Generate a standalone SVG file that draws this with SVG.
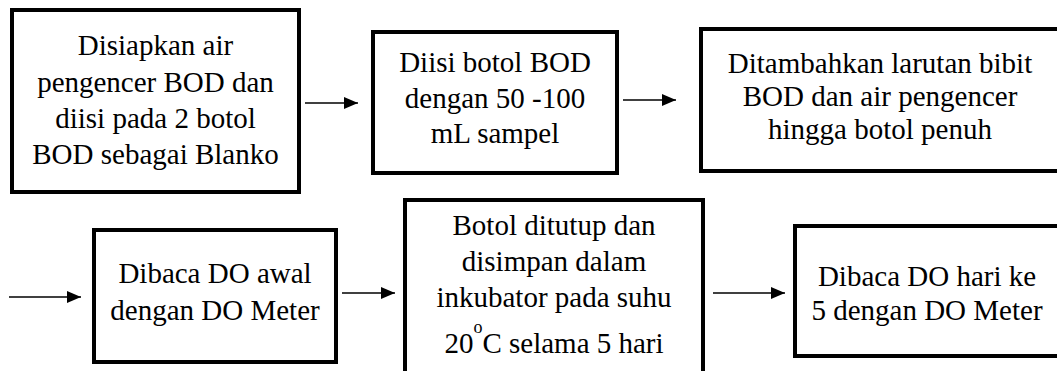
<svg xmlns="http://www.w3.org/2000/svg" width="1057" height="371" viewBox="0 0 1057 371" font-family="Liberation Serif, DejaVu Serif, serif">
  <style>
    .box { fill: #ffffff; stroke: #000000; stroke-width: 4; }
    .lbl { font-size: 29px; fill: #000000; text-anchor: middle; }
    .sup { font-size: 18px; }
    .link { stroke: #000000; stroke-width: 1.5; fill: none; marker-end: url(#head); }
  </style>
  <defs>
    <marker id="head" viewBox="0 0 14 12" refX="14" refY="6" markerWidth="14" markerHeight="12" markerUnits="userSpaceOnUse" orient="auto">
      <path d="M0,0 L14,6 L0,12 Z" fill="#000000"/>
    </marker>
  </defs>

  <rect width="1057" height="371" fill="#ffffff"/>

  <!-- step 1 -->
  <g id="step-prepare">
    <rect class="box" x="12" y="10" width="287" height="182"/>
    <text class="lbl" x="155.5" y="55" font-family="Liberation Serif, serif">Disiapkan air</text>
    <text class="lbl" x="155.5" y="92">pengencer BOD dan</text>
    <text class="lbl" x="155.5" y="128">diisi pada 2 botol</text>
    <text class="lbl" x="155.5" y="164">BOD sebagai Blanko</text>
  </g>

  <!-- step 2 -->
  <g id="step-fill">
    <rect class="box" x="373" y="32" width="244" height="141"/>
    <text class="lbl" x="495" y="72">Diisi botol BOD</text>
    <text class="lbl" x="495" y="108">dengan 50 -100</text>
    <text class="lbl" x="495" y="143">mL sampel</text>
  </g>

  <!-- step 3 -->
  <g id="step-seed">
    <rect class="box" x="701" y="29" width="358" height="142"/>
    <text class="lbl" x="880" y="73">Ditambahkan larutan bibit</text>
    <text class="lbl" x="880" y="106">BOD dan air pengencer</text>
    <text class="lbl" x="880" y="139">hingga botol penuh</text>
  </g>

  <!-- step 4 -->
  <g id="step-do-initial">
    <rect class="box" x="94" y="230" width="242" height="132"/>
    <text class="lbl" x="215" y="283">Dibaca DO awal</text>
    <text class="lbl" x="215" y="320">dengan DO Meter</text>
  </g>

  <!-- step 5 -->
  <g id="step-incubate">
    <rect class="box" x="405" y="200" width="298" height="190"/>
    <text class="lbl" x="554" y="235">Botol ditutup dan</text>
    <text class="lbl" x="554" y="271">disimpan dalam</text>
    <text class="lbl" x="554" y="307">inkubator pada suhu</text>
    <text class="lbl" x="554" y="353">20<tspan class="sup" dy="-20">o</tspan><tspan dy="20">C selama 5 hari</tspan></text>
  </g>

  <!-- step 6 -->
  <g id="step-do-day5">
    <rect class="box" x="795" y="226" width="264" height="130"/>
    <text class="lbl" x="927" y="286">Dibaca DO hari ke</text>
    <text class="lbl" x="927" y="320">5 dengan DO Meter</text>
  </g>

  <!-- connectors -->
  <g id="connectors">
    <line class="link" x1="305" y1="103" x2="358" y2="103"/>
    <line class="link" x1="623" y1="100" x2="676" y2="100"/>
    <line class="link" x1="9" y1="297" x2="81" y2="297"/>
    <line class="link" x1="342" y1="293" x2="395" y2="293"/>
    <line class="link" x1="713" y1="293" x2="785" y2="293"/>
  </g>
</svg>
